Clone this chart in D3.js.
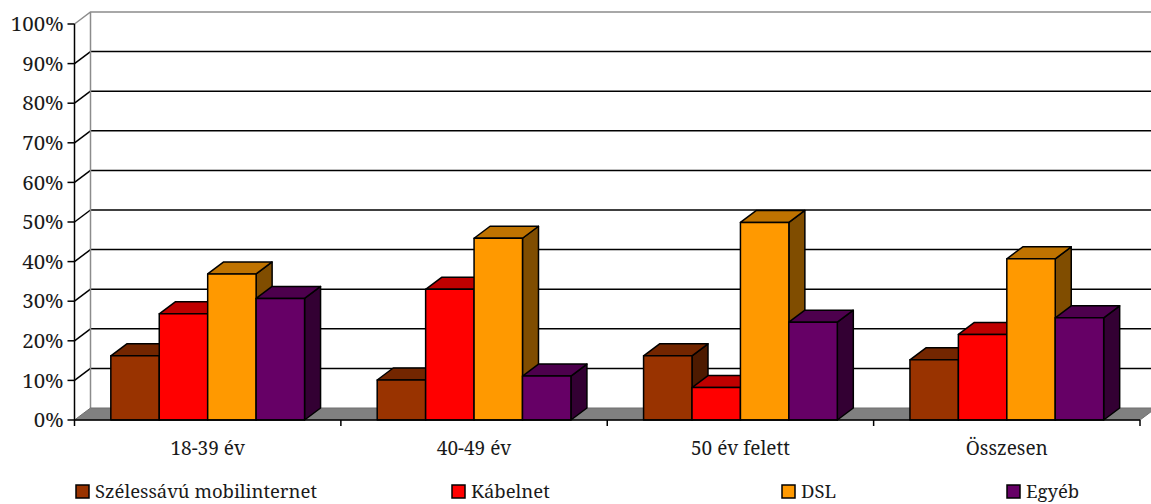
<!DOCTYPE html>
<html>
<head>
<meta charset="utf-8">
<script src="https://cdn.jsdelivr.net/npm/d3@7"></script>
<style>
  html, body { margin: 0; padding: 0; background: #fff; }
</style>
</head>
<body>
<svg id="chart" width="1151" height="504"></svg>
<script>
// Internet access type by age group (%)
const categories = ["18-39 év", "40-49 év", "50 év felett", "Összesen"];
const seriesNames = ["Szélessávú mobilinternet", "Kábelnet", "DSL", "Egyéb"];
const mobilinternet = [16.2, 10.1, 16.2, 15.2];
const kabelnet = [26.8, 33.0, 8.2, 21.6];
const dsl = [36.9, 45.9, 49.9, 40.7];
const egyeb = [30.7, 11.1, 24.7, 25.8];
const yTicks = [0, 10, 20, 30, 40, 50, 60, 70, 80, 90, 100];

const seriesValues = [mobilinternet, kabelnet, dsl, egyeb];
const faceColors = ["#993300", "#ff0000", "#ff9900", "#660066"];
const FONT = "'Noto Serif', 'Liberation Serif', 'DejaVu Serif', serif";

const svg = d3.select("#chart");
const W = 1151;

// depth offset of the 3D box
const DX = 16, DY = -12;
const x0 = 74.5, x1 = 1140;
const y = d3.scaleLinear().domain([0, 100]).range([420, 24]);
const x = d3.scaleBand().domain(categories).range([x0, x1]).paddingInner(0).paddingOuter(0);
const xs = d3.scaleBand().domain(seriesNames).range([0, x.bandwidth()]).paddingInner(0).paddingOuter(0.75);

const shade = (c, k) => { const r = d3.rgb(c); return d3.rgb(r.r * k, r.g * k, r.b * k).formatHex(); };

const walls = svg.append("g");
// back wall gridlines (and left wall diagonals)
yTicks.filter(v => v > 0 && v < 100).forEach(v => {
  walls.append("line").attr("x1", x0 + DX).attr("x2", W + 20)
    .attr("y1", y(v) + DY).attr("y2", y(v) + DY)
    .attr("stroke", "#000").attr("stroke-width", 1.5);
  walls.append("line").attr("x1", x0).attr("x2", x0 + DX)
    .attr("y1", y(v)).attr("y2", y(v) + DY)
    .attr("stroke", "#000").attr("stroke-width", 1.5);
});
// wall border
walls.append("path")
  .attr("d", `M${x0},${y(100)}L${x0 + DX},${y(100) + DY}L${W + 20},${y(100) + DY}` +
             `M${x0 + DX},${y(100) + DY}L${x0 + DX},${y(0) + DY}`)
  .attr("fill", "none").attr("stroke", "#8c8c8c").attr("stroke-width", 1.5);

// floor
walls.append("path")
  .attr("d", `M${x0},${y(0)}L${x1},${y(0)}L${x1 + DX},${y(0) + DY}L${x0 + DX},${y(0) + DY}Z`)
  .attr("fill", "#808080").attr("stroke", "#6e6e6e").attr("stroke-width", 1);

// bars, drawn left to right so each front face covers the previous side face
const bars = svg.append("g");
categories.forEach((cat, ci) => {
  seriesNames.forEach((s, si) => {
    const v = seriesValues[si][ci];
    const bx = x(cat) + xs(s), bw = xs.bandwidth();
    const top = y(v), base = y(0);
    const c = faceColors[si];
    const g = bars.append("g").attr("stroke", "#000").attr("stroke-width", 1.5).attr("stroke-linejoin", "round");
    g.append("path")
      .attr("d", `M${bx + bw},${base}L${bx + bw + DX},${base + DY}L${bx + bw + DX},${top + DY}L${bx + bw},${top}Z`)
      .attr("fill", shade(c, 0.5));
    g.append("path")
      .attr("d", `M${bx},${top}L${bx + DX},${top + DY}L${bx + bw + DX},${top + DY}L${bx + bw},${top}Z`)
      .attr("fill", shade(c, 0.75));
    g.append("rect").attr("x", bx).attr("y", top).attr("width", bw).attr("height", base - top)
      .attr("fill", c);
  });
});

// value axis
const yAxis = svg.append("g");
yAxis.append("line").attr("x1", x0).attr("x2", x0).attr("y1", y(100)).attr("y2", y(0))
  .attr("stroke", "#000").attr("stroke-width", 1.5);
yTicks.forEach(v => {
  yAxis.append("line").attr("x1", x0 - 7).attr("x2", x0).attr("y1", y(v)).attr("y2", y(v))
    .attr("stroke", "#000").attr("stroke-width", 1.5);
  yAxis.append("text").attr("x", x0 - 11).attr("y", y(v)).attr("dy", "0.35em")
    .attr("text-anchor", "end").attr("font-family", FONT).attr("fill", "#1a1a1a")
    .attr("font-size", 20.5).text(v + "%");
});

// category axis
const xAxis = svg.append("g");
xAxis.append("line").attr("x1", x0).attr("x2", x1).attr("y1", y(0)).attr("y2", y(0))
  .attr("stroke", "#000").attr("stroke-width", 1.5);
[x0, ...categories.map(c => x(c) + x.bandwidth())].forEach(t => {
  xAxis.append("line").attr("x1", t).attr("x2", t).attr("y1", y(0)).attr("y2", y(0) + 6)
    .attr("stroke", "#000").attr("stroke-width", 1.5);
});
categories.forEach(c => {
  xAxis.append("text").attr("x", x(c) + x.bandwidth() / 2).attr("y", 455)
    .attr("text-anchor", "middle").attr("font-family", FONT).attr("fill", "#1a1a1a")
    .attr("font-size", 19).text(c);
});

// legend
const legendX = [76, 452, 782, 1007];
const legend = svg.append("g");
seriesNames.forEach((s, i) => {
  legend.append("rect").attr("x", legendX[i]).attr("y", 485).attr("width", 13).attr("height", 13)
    .attr("fill", faceColors[i]).attr("stroke", "#000").attr("stroke-width", 1.5);
  legend.append("text").attr("x", legendX[i] + 19).attr("y", 498)
    .attr("font-family", FONT).attr("fill", "#1a1a1a")
    .attr("font-size", 18.5).text(s);
});
</script>
</body>
</html>
